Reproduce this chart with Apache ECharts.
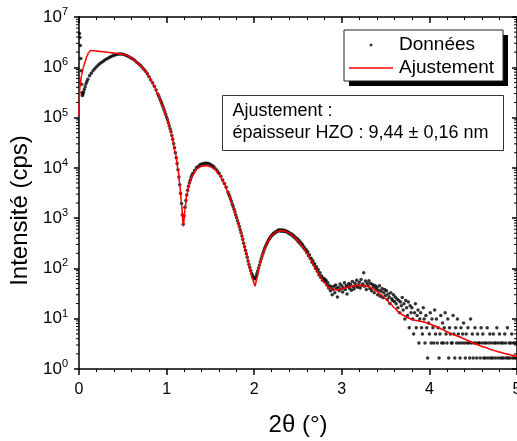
<!DOCTYPE html>
<html>
<head>
<meta charset="utf-8">
<script src="https://cdn.jsdelivr.net/npm/echarts@6/dist/echarts.min.js"></script>
<style>html,body{margin:0;padding:0;background:#fff}#c{width:517px;height:441px}</style>
</head>
<body>
<div id="c"></div>
<script>
const FONT = '"Liberation Sans", Arial, Helvetica, sans-serif';

// Measured data (2θ in degrees, intensity in cps)
const measuredTwoTheta = [
0.005,0.01,0.015,0.02,0.025,0.03,0.035,0.04,0.045,0.05,
0.06,0.07,0.08,0.09,0.1,0.12,0.14,0.16,0.18,0.2,
0.22,0.24,0.26,0.28,0.3,0.32,0.34,0.36,0.38,0.4,
0.42,0.44,0.46,0.48,0.5,0.52,0.54,0.56,0.58,0.6,
0.62,0.64,0.66,0.68,0.7,0.72,0.74,0.76,0.78,0.8,
0.82,0.84,0.86,0.88,0.9,0.91,0.92,0.93,0.94,0.95,
0.96,0.97,0.98,0.99,1,1.01,1.02,1.03,1.04,1.05,
1.06,1.07,1.08,1.09,1.1,1.11,1.12,1.13,1.14,1.15,
1.16,1.17,1.18,1.19,1.2,1.21,1.22,1.23,1.24,1.25,
1.26,1.27,1.28,1.29,1.3,1.32,1.34,1.36,1.38,1.4,
1.42,1.44,1.46,1.48,1.5,1.52,1.54,1.56,1.58,1.6,
1.62,1.64,1.66,1.68,1.7,1.71,1.72,1.73,1.74,1.75,
1.76,1.77,1.78,1.79,1.8,1.81,1.82,1.83,1.84,1.85,
1.86,1.87,1.88,1.89,1.9,1.91,1.92,1.93,1.94,1.95,
1.96,1.97,1.98,1.99,2,2.01,2.02,2.03,2.04,2.05,
2.06,2.07,2.08,2.09,2.1,2.11,2.12,2.13,2.14,2.15,
2.16,2.17,2.18,2.19,2.2,2.21,2.22,2.23,2.24,2.25,
2.26,2.27,2.28,2.29,2.3,2.31,2.32,2.33,2.34,2.35,
2.36,2.37,2.38,2.39,2.4,2.41,2.42,2.43,2.44,2.45,
2.46,2.47,2.48,2.49,2.5,2.51,2.52,2.53,2.54,2.55,
2.56,2.57,2.58,2.59,2.6,2.61,2.62,2.63,2.64,2.65,
2.66,2.67,2.68,2.69,2.7,2.71,2.72,2.73,2.74,2.75,
2.76,2.77,2.78,2.79,2.8,2.81,2.82,2.83,2.84,2.85,
2.86,2.87,2.88,2.89,2.9,2.91,2.92,2.93,2.94,2.95,
2.96,2.97,2.98,2.99,3,3.01,3.02,3.03,3.04,3.05,
3.06,3.07,3.08,3.09,3.1,3.11,3.12,3.13,3.14,3.15,
3.16,3.17,3.18,3.19,3.2,3.21,3.22,3.23,3.24,3.25,
3.26,3.27,3.28,3.29,3.3,3.31,3.32,3.33,3.34,3.35,
3.36,3.37,3.38,3.39,3.4,3.41,3.42,3.43,3.44,3.45,
3.46,3.47,3.48,3.49,3.5,3.51,3.52,3.53,3.54,3.55,
3.56,3.57,3.58,3.59,3.6,3.61,3.62,3.63,3.64,3.65,
3.66,3.67,3.68,3.69,3.7,3.71,3.72,3.73,3.74,3.75,
3.76,3.77,3.78,3.79,3.8,3.81,3.82,3.83,3.84,3.85,
3.86,3.87,3.88,3.89,3.9,3.91,3.92,3.93,3.94,3.95,
3.96,3.97,3.98,3.99,4,4.01,4.02,4.03,4.04,4.05,
4.06,4.07,4.08,4.09,4.1,4.11,4.12,4.13,4.14,4.15,
4.16,4.17,4.18,4.19,4.2,4.21,4.22,4.23,4.24,4.25,
4.26,4.27,4.28,4.29,4.3,4.31,4.32,4.33,4.34,4.35,
4.36,4.37,4.38,4.39,4.4,4.41,4.42,4.43,4.44,4.45,
4.46,4.47,4.48,4.49,4.5,4.51,4.52,4.53,4.54,4.55,
4.56,4.57,4.58,4.59,4.6,4.61,4.62,4.63,4.64,4.65,
4.66,4.67,4.68,4.69,4.7,4.71,4.72,4.73,4.74,4.75,
4.76,4.77,4.78,4.79,4.8,4.81,4.82,4.83,4.84,4.85,
4.86,4.87,4.88,4.89,4.9,4.91,4.92,4.93,4.94,4.95,
4.96,4.97,4.98,4.99,5
];
const measuredIntensity = [
4.7e6,3.9e6,2.7e6,1.5e6,8.5e5,4.6e5,3.1e5,2.75e5,2.95e5,3.2e5,
3.6e5,4.1e5,4.7e5,5.2e5,5.75e5,6.75e5,7.6e5,8.5e5,9.3e5,1.02e6,
1.11e6,1.19e6,1.26e6,1.33e6,1.41e6,1.48e6,1.55e6,1.62e6,1.68e6,1.74e6,
1.78e6,1.82e6,1.84e6,1.84e6,1.82e6,1.78e6,1.72e6,1.66e6,1.58e6,1.51e6,
1.45e6,1.35e6,1.26e6,1.17e6,1.10e6,1.0e6,9.1e5,8.3e5,7.4e5,6.5e5,
5.6e5,4.9e5,4.2e5,3.55e5,2.95e5,2.7e5,2.45e5,2.22e5,2.0e5,1.8e5,
1.62e5,1.45e5,1.29e5,1.15e5,1.02e5,9.0e4,7.9e4,6.9e4,6.0e4,5.2e4,
4.4e4,3.7e4,3.05e4,2.5e4,2.0e4,1.58e4,1.22e4,9.2e3,6.6e3,4.6e3,
3.1e3,1.95e3,1.15e3,760,1.1e3,1.65e3,2.25e3,2.9e3,3.6e3,4.3e3,
5.0e3,5.7e3,6.4e3,7.1e3,7.8e3,8.9e3,1.0e4,1.07e4,1.15e4,1.19e4,
1.22e4,1.23e4,1.23e4,1.22e4,1.17e4,1.12e4,1.05e4,9.5e3,8.7e3,7.8e3,
6.8e3,5.75e3,4.9e3,4.1e3,3.3e3,3.0e3,2.7e3,2.4e3,2.15e3,1.9e3,
1.7e3,1.5e3,1.32e3,1.16e3,1.02e3,890,780,680,590,510,
440,375,316,270,230,195,166,141,120,104,
91,80,72,66,63,62,69,78,89,102,
117,135,155,177,200,225,251,276,302,328,
355,381,407,432,457,470,501,495,530,528,
545,575,556,590,560,548,585,560,540,572,
548,530,545,505,512,490,470,482,440,452,
410,418,380,392,345,362,318,330,288,300,
262,268,232,240,205,215,178,188,158,160,
132,142,118,124,100,108,88,95,74,82,
66,71,58,63,62,55,58,47,52,41,
45,36,43,30,38,44,33,47,40,27,
42,36,49,39,45,34,41,52,38,46,
31,44,50,40,48,37,55,43,39,51,
45,58,42,47,53,41,60,46,49,82,
44,56,38,51,45,57,40,50,36,48,
43,33,46,39,42,30,37,45,28,35,
40,26,33,38,29,36,24,31,27,20,
33,25,23,30,22,27,19.8,24.75,16.5,23.1,
13.2,21.45,18.15,26.4,14.85,19.8,9.9,23.1,16.5,11.55,
21.45,6.6,18.15,13.2,16.5,9.9,4.95,13.2,19.8,6.6,
11.55,14.85,3.3,9.9,13.2,6.6,4.95,16.5,9.9,3.3,
11.55,6.6,1.65,8.25,4.95,13.2,3.3,9.9,6.6,3.3,
14.85,4.95,9.9,3.3,6.6,1.65,4.95,11.55,3.3,8.25,
3.3,6.6,13.2,4.95,3.3,9.9,1.65,6.6,4.95,3.3,
3.3,11.55,4.95,1.65,6.6,3.3,9.9,4.95,3.3,1.65,
6.6,3.3,4.95,8.25,3.3,1.65,4.95,3.3,6.6,3.3,
1.65,9.9,3.3,4.95,1.65,3.3,6.6,3.3,1.65,4.95,
3.3,3.3,1.65,6.6,3.3,4.95,1.65,3.3,1.65,3.3,
6.6,1.65,3.3,4.95,1.65,3.3,1.65,4.95,3.3,1.65,
3.3,6.6,1.65,3.3,4.95,1.65,3.3,1.65,3.3,1.65,
4.95,3.3,1.65,6.6,1.65,3.3,1.65,3.3,4.95,1.65,
3.3,1.65,3.3,1.65,3.3
];

// Fit curve
const fitTwoTheta = [
0,0.003,0.01,0.03,0.05,0.07,0.09,0.11,0.13,
0.2,0.3,0.4,0.45,0.5,0.55,0.6,0.65,0.7,0.75,0.8,0.85,0.9,0.95,1,
1.05,1.1,1.13,1.15,1.17,1.19,1.21,1.23,1.26,1.3,1.35,1.4,1.45,1.5,1.55,1.6,1.65,1.7,1.75,1.8,1.85,1.9,1.95,1.98,2.01,2.03,2.06,2.1,
2.15,2.2,2.25,2.3,2.35,2.4,2.45,2.5,2.55,2.6,
2.65,2.7,2.75,2.8,2.85,2.9,2.95,3,3.05,3.1,
3.15,3.2,3.25,3.3,3.35,3.4,3.45,3.5,3.55,3.6,
3.65,3.7,3.75,3.8,3.85,3.9,3.95,4,4.05,4.1,
4.15,4.2,4.25,4.3,4.35,4.4,4.45,4.5,4.55,4.6,
4.65,4.7,4.75,4.8,4.85,4.9,4.95,5
];
const fitIntensity = [
1.1e5,2.2e5,4.0e5,7.0e5,1.0e6,1.3e6,1.65e6,1.95e6,2.15e6,
2.1e6,2.02e6,1.93e6,1.88e6,1.82e6,1.71e6,1.52e6,1.3e6,1.08e6,8.6e5,6.4e5,4.5e5,2.9e5,1.78e5,1.03e5,
5.1e4,2.0e4,9.5e3,4.8e3,2.0e3,700,1.5e3,2.9e3,4.9e3,7.3e3,9.6e3,1.08e4,1.11e4,1.06e4,9.3e3,7.3e3,5.2e3,3.3e3,1.9e3,1.0e3,510,230,105,62,45,62,112,200,
330,455,535,565,555,505,435,355,275,205,
145,100,70,52,42,38,37.5,39,41.5,44,
45.5,46,45.5,44,40,35,30,25,20.5,16.5,
13.5,11.8,10.5,9.7,9.2,8.9,8.5,7.9,7.3,6.7,
6.1,5.5,5.0,4.65,4.3,3.95,3.6,3.3,3.05,2.8,
2.65,2.45,2.3,2.18,2.06,1.97,1.87,1.78
];

const seriesNames = ['Données', 'Ajustement'];
const xTickLabels = ['0', '1', '2', '3', '4', '5'];
const logMinorTicks = [
2,3,4,5,6,7,8,9,
20,30,40,50,60,70,80,90,
200,300,400,500,600,700,800,900,
2000,3000,4000,5000,6000,7000,8000,9000,
2e4,3e4,4e4,5e4,6e4,7e4,8e4,9e4,
2e5,3e5,4e5,5e5,6e5,7e5,8e5,9e5,
2e6,3e6,4e6,5e6,6e6,7e6,8e6,9e6
];
const annotationLines = ['Ajustement :', 'épaisseur HZO : 9,44 ± 0,16 nm'];
const xAxisTitle = '2θ (°)';
const yAxisTitle = 'Intensité (cps)';

const measured = measuredTwoTheta.map((x, i) => [x, measuredIntensity[i]]);
const fit = fitTwoTheta.map((x, i) => [x, fitIntensity[i]]);

const chart = echarts.init(document.getElementById('c'), null, { renderer: 'canvas' });

const axisLineStyle = { color: '#000', width: 1.5 };
const xBase = {
  type: 'value', min: 0, max: 5, interval: 1,
  splitLine: { show: false },
  axisLine: { show: true, onZero: false, lineStyle: axisLineStyle },
  minorTick: { show: true, splitNumber: 5, length: 3, lineStyle: { color: '#000', width: 1 } }
};
const yBase = {
  type: 'log', logBase: 10, min: 1, max: 1e7,
  splitLine: { show: false },
  axisLine: { show: true, onZero: false, lineStyle: axisLineStyle }
};

chart.setOption({
  animation: false,
  backgroundColor: '#fff',
  textStyle: { fontFamily: FONT },
  grid: { left: 79, right: 0, top: 17, bottom: 72, containLabel: false, outerBoundsMode: 'none' },
  xAxis: [
    Object.assign({}, xBase, {
      position: 'bottom',
      axisTick: { show: true, inside: false, length: 6, lineStyle: { color: '#000', width: 1.5 } },
      axisLabel: { show: true, margin: 13, color: '#000', fontSize: 16, fontFamily: FONT,
        formatter: v => xTickLabels[Math.round(v)] },
      name: xAxisTitle, nameLocation: 'middle', nameGap: 44,
      nameTextStyle: { fontSize: 24, color: '#000', fontFamily: FONT }
    }),
    Object.assign({}, xBase, {
      position: 'top',
      axisTick: { show: true, inside: true, length: 6, lineStyle: { color: '#000', width: 1.5 } },
      axisLabel: { show: false }
    })
  ],
  yAxis: [
    Object.assign({}, yBase, {
      position: 'left',
      axisTick: { show: true, inside: false, length: 5, lineStyle: { color: '#000', width: 1.5 } },
      axisLabel: {
        show: true, margin: 11, color: '#000',
        formatter: v => '{b|10}{s|' + Math.round(Math.log10(v)) + '}',
        rich: {
          b: { fontSize: 17, color: '#000', fontFamily: FONT },
          s: { fontSize: 11, color: '#000', fontFamily: FONT, padding: [0, 0, 10, 0] }
        }
      },
      name: yAxisTitle, nameLocation: 'middle', nameGap: 41,
      nameTextStyle: { fontSize: 24, color: '#000', fontFamily: FONT, padding: [0, 35, 0, 0] }
    }),
    Object.assign({}, yBase, {
      position: 'right',
      axisTick: { show: true, inside: true, length: 5, lineStyle: { color: '#000', width: 1.5 } },
      axisLabel: { show: false }
    })
  ],
  legend: {
    orient: 'vertical', left: 344, top: 30, z: 10,
    padding: [5, 9, 3, 4], itemGap: 3, itemWidth: 46, itemHeight: 20,
    backgroundColor: '#fff', borderColor: '#222', borderWidth: 1,
    textStyle: { fontSize: 19, color: '#000', fontFamily: FONT },
    selectedMode: false,
    data: [
      { name: seriesNames[0], icon: 'path://M0,0M46,20M21.5,10a1.5,1.5 0 1,0 3,0a1.5,1.5 0 1,0 -3,0z', itemStyle: { color: '#000', borderWidth: 0 } },
      { name: seriesNames[1], icon: 'path://M0,0M46,20M1,9.2h44v1.6h-44z', itemStyle: { color: '#ff0000', borderWidth: 0 } }
    ]
  },
  graphic: [
    {
      type: 'rect', z: 1, silent: true,
      shape: { x: 349, y: 35, width: 159, height: 51 },
      style: { fill: '#000' }
    },
    {
      type: 'group', left: 222, top: 95, z: 100,
      children: [
        { type: 'rect', shape: { x: 0, y: 0, width: 281, height: 55 },
          style: { fill: '#fff', stroke: '#333', lineWidth: 1 } },
        { type: 'text', x: 10, y: 5,
          style: { text: annotationLines.join('\n'), font: '18px ' + FONT, lineHeight: 22, fill: '#000' } }
      ]
    }
  ],
  series: [
    {
      name: seriesNames[0], type: 'scatter', data: measured,
      symbol: 'circle', symbolSize: 3.5, itemStyle: { color: '#000' },
      xAxisIndex: 0, yAxisIndex: 0, z: 2, silent: true
    },
    {
      name: seriesNames[1], type: 'line', data: fit,
      symbol: 'none', smooth: 0.3, smoothMonotone: 'x',
      lineStyle: { color: '#ff0000', width: 1.6 }, itemStyle: { color: '#ff0000' },
      xAxisIndex: 0, yAxisIndex: 0, z: 3, silent: true
    },
    {
      name: 'minorTicks', type: 'custom', clip: false, silent: true, z: 5,
      xAxisIndex: 0, yAxisIndex: 0,
      data: logMinorTicks.map(v => [0, v]),
      renderItem: function (params, api) {
        const v = api.value(1);
        const l = api.coord([0, v]);
        const r = api.coord([5, v]);
        return {
          type: 'group',
          children: [
            { type: 'line', shape: { x1: l[0] - 3, y1: l[1], x2: l[0], y2: l[1] }, style: { stroke: '#000', lineWidth: 1 } },
            { type: 'line', shape: { x1: r[0] - 3, y1: r[1], x2: r[0], y2: r[1] }, style: { stroke: '#000', lineWidth: 1 } }
          ]
        };
      }
    }
  ]
});
</script>
</body>
</html>
